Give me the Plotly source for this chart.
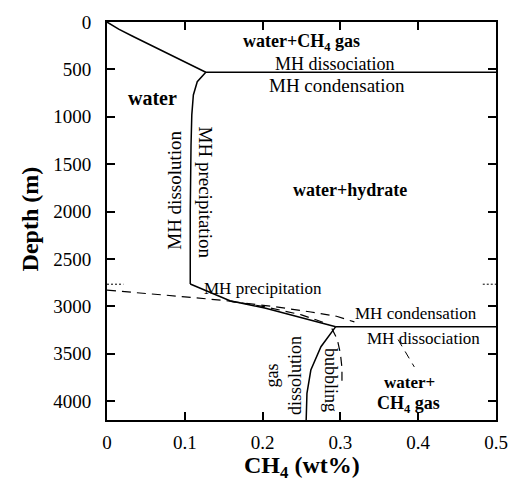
import plotly.graph_objects as go

# ---------------- data (CH4 wt%, depth m) ----------------
top_x = [0, 0.015, 0.033, 0.062, 0.095, 0.127]
top_d = [0, 75, 150, 265, 400, 530]

upper_h_x = [0.127, 0.5]
upper_h_d = [530, 530]

diss_x = [0.127, 0.116, 0.111, 0.109, 0.108, 0.107, 0.107]
diss_d = [530, 630, 770, 980, 1300, 2000, 2765]

precip_x = [0.107, 0.158, 0.204, 0.270, 0.294]
precip_d = [2765, 2941, 3020, 3160, 3215]

lower_h_x = [0.294, 0.5]
lower_h_d = [3215, 3215]

gasdiss_x = [0.294, 0.275, 0.262, 0.257, 0.256]
gasdiss_d = [3215, 3427, 3673, 3919, 4200]

dash1_x = [0, 0.05, 0.1, 0.158, 0.2, 0.25, 0.285]
dash1_d = [2830, 2862, 2900, 2945, 3000, 3090, 3190]

dash2_x = [0.16, 0.216, 0.262, 0.295, 0.318]
dash2_d = [2950, 3005, 3060, 3105, 3165]

bubble_x = [0.289, 0.296, 0.300, 0.302, 0.302]
bubble_d = [3235, 3350, 3500, 3650, 3850]

leader_x = [0.374, 0.395]
leader_d = [3350, 3640]

dotl_x = [0, 0.021]
dotr_x = [0.483, 0.5]
dot_d = [2767, 2767]

x_ticks = [0, 0.1, 0.2, 0.3, 0.4, 0.5]
x_ticklabels = ["0", "0.1", "0.2", "0.3", "0.4", "0.5"]
y_ticks = [0, 500, 1000, 1500, 2000, 2500, 3000, 3500, 4000]
y_ticklabels = [str(v) for v in y_ticks]

# labels: text, x, depth, size, angle, bold
labels = [
    ("water+CH<sub>4</sub> gas", 0.250, 212, 18, 0, True),
    ("MH dissociation", 0.293, 440, 18, 0, False),
    ("MH condensation", 0.295, 675, 19, 0, False),
    ("water", 0.059, 802, 20, 0, True),
    ("water+hydrate", 0.312, 1773, 18, 0, True),
    ("MH dissolution", 0.0875, 1780, 19, -90, False),
    ("MH precipitation", 0.126, 1800, 19, 90, False),
    ("MH precipitation", 0.200, 2807, 17, 0, False),
    ("MH condensation", 0.3975, 3071, 17, 0, False),
    ("MH dissociation", 0.407, 3335, 17, 0, False),
    ("gas<br>dissolution", 0.226, 3726, 18, -90, False),
    ("bubbling", 0.288, 3778, 18, 90, False),
    ("water+", 0.389, 3805, 17, 0, True),
    ("CH<sub>4</sub> gas", 0.387, 4035, 18, 0, True),
]

FONT = "Liberation Serif, Times New Roman, serif"

fig = go.Figure()

def solid(x, y):
    fig.add_trace(go.Scatter(x=x, y=y, mode="lines",
                             line=dict(color="black", width=1.5),
                             showlegend=False, hoverinfo="skip"))

def dashed(x, y, dash="9px,6px", w=1.2):
    fig.add_trace(go.Scatter(x=x, y=y, mode="lines",
                             line=dict(color="black", width=w, dash=dash),
                             showlegend=False, hoverinfo="skip"))

solid(top_x, top_d)
solid(upper_h_x, upper_h_d)
solid(diss_x, diss_d)
solid(precip_x, precip_d)
solid(lower_h_x, lower_h_d)
solid(gasdiss_x, gasdiss_d)
dashed(dash1_x, dash1_d)
dashed(dash2_x, dash2_d)
dashed(bubble_x, bubble_d)
dashed(leader_x, leader_d, dash="8px,6px", w=1)
dashed(dotl_x, dot_d, dash="2px,2px", w=1)
dashed(dotr_x, dot_d, dash="2px,2px", w=1)

for text, x, d, size, ang, bold in labels:
    t = f"<b>{text}</b>" if bold else text
    fig.add_annotation(x=x, y=d, text=t, showarrow=False, textangle=ang,
                       xanchor="center", yanchor="middle",
                       font=dict(family=FONT, size=size, color="black"))

# axis titles
fig.add_annotation(xref="paper", yref="paper", x=0.5, y=-0.118,
                   text="<b>CH<sub>4</sub> (wt%)</b>", showarrow=False,
                   xanchor="center", yanchor="middle",
                   font=dict(family=FONT, size=24, color="black"))
fig.add_annotation(xref="paper", yref="paper", x=-0.197, y=0.505,
                   text="<b>Depth (m)</b>", showarrow=False, textangle=-90,
                   xanchor="center", yanchor="middle",
                   font=dict(family=FONT, size=24, color="black"))

axis_common = dict(showgrid=False, zeroline=False, showline=True,
                   linecolor="black", linewidth=2, mirror="ticks",
                   ticks="inside", ticklen=8, tickwidth=2, tickcolor="black",
                   tickfont=dict(family=FONT, size=19, color="black"))

fig.update_xaxes(range=[0, 0.5], tickvals=x_ticks, ticktext=x_ticklabels,
                 ticklabelstandoff=4, **axis_common)
fig.update_yaxes(range=[4200, 0], tickvals=y_ticks, ticktext=y_ticklabels,
                 ticklabelstandoff=10, **axis_common)

fig.update_layout(width=519, height=482,
                  margin=dict(l=107, r=11, t=22, b=62),
                  plot_bgcolor="white", paper_bgcolor="white",
                  font=dict(family=FONT))

fig.write_html("out.html")
